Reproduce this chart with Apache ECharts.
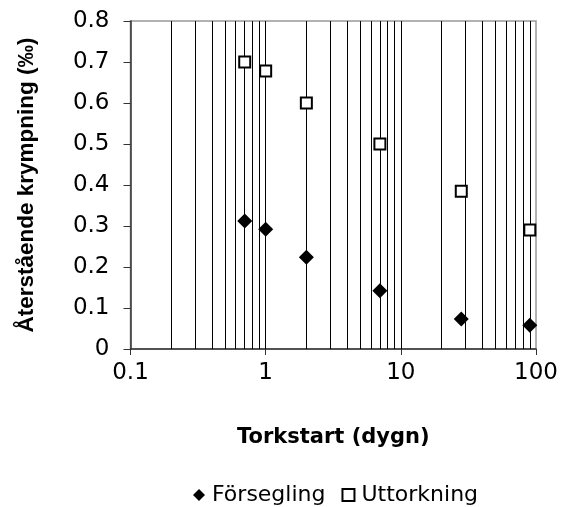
<!DOCTYPE html>
<html>
<head>
<meta charset="utf-8">
<script src="https://cdn.jsdelivr.net/npm/echarts@6/dist/echarts.min.js"></script>
<style>
html,body{margin:0;padding:0;background:#fff;}
#c{width:568px;height:507px;}
</style>
</head>
<body>
<div id="c"></div>
<script>
// Data
const torkstart = [0.7, 1, 2, 7, 28, 90];               // days (x, log scale)
const forsegling = [0.312, 0.292, 0.224, 0.142, 0.073, 0.058];
const uttorkning = [0.70, 0.678, 0.60, 0.50, 0.385, 0.29];
const yTicks = [0, 0.1, 0.2, 0.3, 0.4, 0.5, 0.6, 0.7, 0.8];
const xTicks = [0.1, 1, 10, 100];
const gridValues = [0.2,0.3,0.4,0.5,0.6,0.7,0.8,0.9,1,2,3,4,5,6,7,8,9,10,20,30,40,50,60,70,80,90];
const seriesNames = ['Försegling', 'Uttorkning'];
const xTitle = 'Torkstart (dygn)';
const yTitle = 'Återstående krympning (‰)';

const chart = echarts.init(document.getElementById('c'), null, {renderer: 'canvas'});
const font = 'DejaVu Sans';
const option = {
  animation: false,
  backgroundColor: '#fff',
  grid: {left: 130.5, right: 32, top: 21, bottom: 158, show: true, borderColor: '#999', borderWidth: 1.5, backgroundColor: 'transparent'},
  xAxis: {
    type: 'log', logBase: 10, min: xTicks[0], max: xTicks[xTicks.length-1],
    name: xTitle, nameLocation: 'middle', nameGap: 78,
    nameTextStyle: {fontFamily: font, fontWeight: 'bold', fontSize: 21, color: '#000'},
    axisLine: {show: true, lineStyle: {color: '#333', width: 1.5}},
    axisTick: {show: true, inside: false, length: 6, lineStyle: {color: '#333', width: 1}},
    splitLine: {show: false},
    minorTick: {show: false},
    axisLabel: {fontFamily: font, fontSize: 23, color: '#000', margin: 13,
      formatter: v => String(v)}
  },
  yAxis: {
    type: 'value', min: yTicks[0], max: yTicks[yTicks.length-1], interval: 0.1,
    name: yTitle, nameLocation: 'middle', nameGap: 92,
    nameTextStyle: {fontFamily: 'Liberation Sans', fontWeight: 'bold', fontSize: 22.5, color: '#000'},
    axisLine: {show: true, lineStyle: {color: '#333', width: 1.5}},
    axisTick: {show: true, inside: false, length: 7, lineStyle: {color: '#333', width: 1}},
    splitLine: {show: false},
    axisLabel: {fontFamily: font, fontSize: 23, color: '#000', margin: 21,
      formatter: v => (v === 0 ? '0' : v.toFixed(1))}
  },
  legend: {
    top: 479, left: 188, itemWidth: 12, itemHeight: 12, itemGap: 16,
    textStyle: {fontFamily: font, fontSize: 22, color: '#000', padding: [0,0,0,2]},
    data: seriesNames
  },
  series: [
    {
      type: 'scatter', name: '_grid', data: [], silent: true, z: 1,
      markLine: {
        silent: true, symbol: 'none', label: {show: false},
        lineStyle: {color: '#000', width: 1, type: 'solid'},
        emphasis: {disabled: true},
        data: gridValues.map(v => ({xAxis: v}))
      }
    },
    {
      type: 'scatter', name: seriesNames[0], z: 5,
      symbol: 'diamond', symbolSize: [15, 15],
      itemStyle: {color: '#000', opacity: 1},
      data: torkstart.map((x, i) => [x, forsegling[i]])
    },
    {
      type: 'scatter', name: seriesNames[1], z: 5,
      symbol: 'rect', symbolSize: 11,
      itemStyle: {color: '#fff', borderColor: '#000', borderWidth: 2, opacity: 1},
      data: torkstart.map((x, i) => [x, uttorkning[i]])
    }
  ]
};
chart.setOption(option);
</script>
</body>
</html>
